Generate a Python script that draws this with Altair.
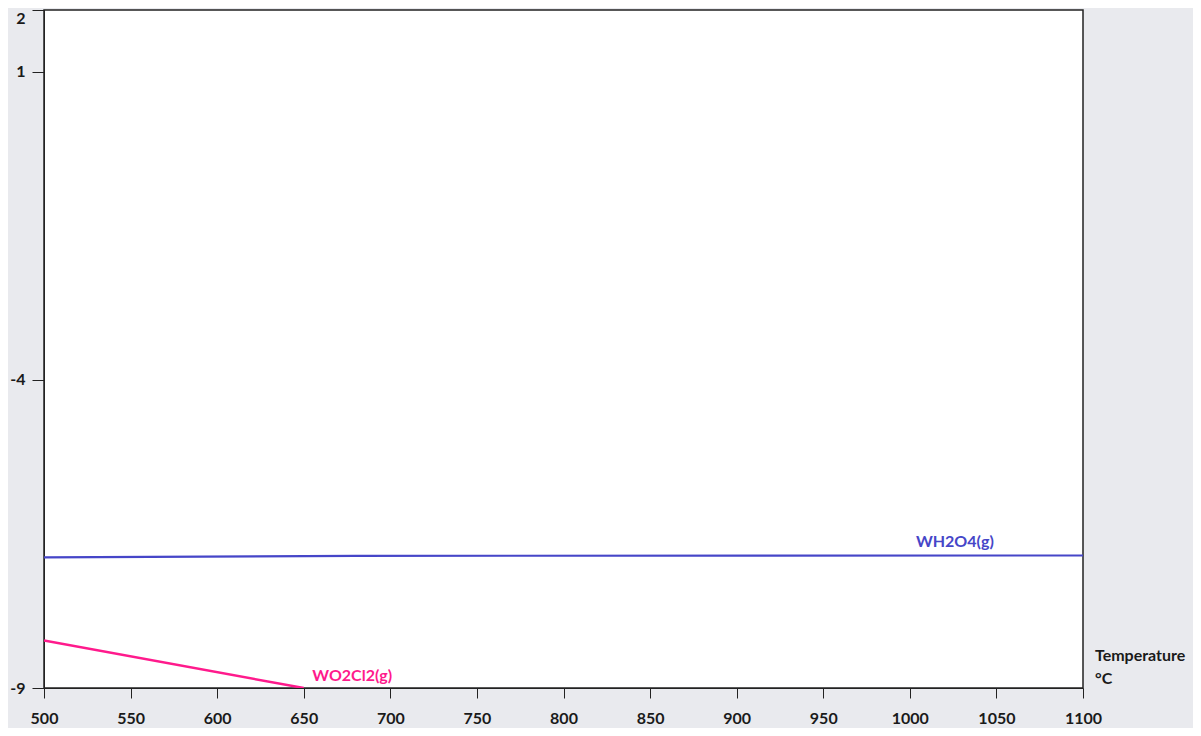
import altair as alt
import pandas as pd

blue_t = [500, 680, 1100]
blue_v = [-6.882, -6.856, -6.850]
pink_t = [500, 650]
pink_v = [-8.23, -9.0]
y_ticks = [2, 1, -4, -9]
x_ticks = [500, 550, 600, 650, 700, 750, 800, 850, 900, 950, 1000, 1050, 1100]

labels = pd.DataFrame({
    "t": [1026, 678],
    "v": [-6.63, -8.80],
    "name": ["WH2O4(g)", "WO2Cl2(g)"],
    "color": ["#4646c8", "#ff1a8c"],
})

blue = pd.DataFrame({"t": blue_t, "v": blue_v})
pink = pd.DataFrame({"t": pink_t, "v": pink_v})

FONT = "Lato"
FS = 16
xs = alt.Scale(domain=[500, 1100], nice=False, zero=False)
ys = alt.Scale(domain=[-9, 2], nice=False, zero=False)

xax = alt.Axis(values=x_ticks, grid=False, tickSize=10, labelPadding=12,
               labelFontSize=FS, labelFontWeight="bold", labelFont=FONT,
               labelColor="#1a1a1a", domainColor="#222", tickColor="#222",
               labelFlush=False, labelExpr="'' + datum.value", title=None)
yax = alt.Axis(values=y_ticks, grid=False, tickSize=12, labelPadding=7,
               labelFontSize=FS, labelFontWeight="bold", labelFont=FONT,
               labelColor="#1a1a1a", domainColor="#222", tickColor="#222",
               labelFlush=False, labelExpr="'' + datum.value",
               labelBaseline=alt.expr("datum.value == 2 ? 'top' : 'middle'"),
               title=None)

l1 = alt.Chart(blue).mark_line(color="#4646c8", strokeWidth=2.2, clip=True).encode(
    x=alt.X("t:Q", scale=xs, axis=xax),
    y=alt.Y("v:Q", scale=ys, axis=yax),
)
l2 = alt.Chart(pink).mark_line(color="#ff1a8c", strokeWidth=2.5, clip=True).encode(
    x=alt.X("t:Q", scale=xs),
    y=alt.Y("v:Q", scale=ys),
)
txt = alt.Chart(labels).mark_text(font=FONT, fontSize=FS, fontWeight="bold",
                                  align="center", baseline="middle").encode(
    x=alt.X("t:Q", scale=xs),
    y=alt.Y("v:Q", scale=ys),
    text="name:N",
    color=alt.Color("color:N", scale=None),
)
title_df = pd.DataFrame({"s": ["Temperature", "°C"], "yy": [646, 669]})
ttl = alt.Chart(title_df).mark_text(font=FONT, fontSize=FS, fontWeight="bold",
                                    align="left", baseline="middle", color="#1a1a1a").encode(
    x=alt.value(1051),
    y=alt.Y("yy:Q", scale=None),
    text="s:N",
)

chart = alt.layer(l1, l2, txt, ttl).properties(
    width=1039, height=678,
    autosize=alt.AutoSizeParams(type="none"),
    padding={"left": 36, "top": 2, "right": 110, "bottom": 40},
    background="#e9eaee",
).configure_view(fill="white", stroke="#222", strokeWidth=1.5)

chart.save("out.html", embed_options={"renderer": "svg", "actions": False})
